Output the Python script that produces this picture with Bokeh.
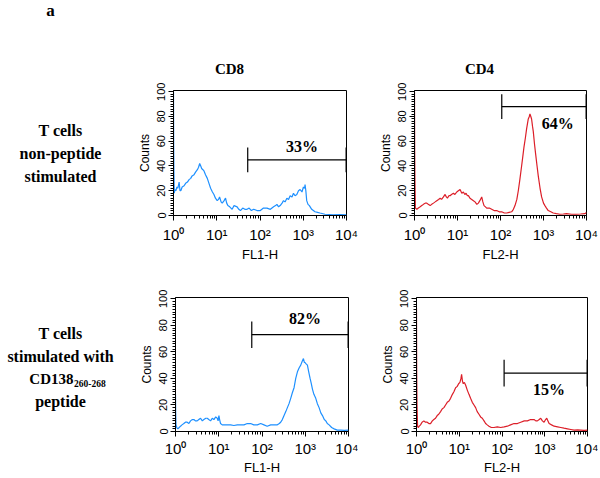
from bokeh.plotting import figure
from bokeh.layouts import column, row
from bokeh.models import Range1d, FixedTicker, SingleIntervalTicker
from bokeh.core.properties import value
from bokeh.embed import file_html
from bokeh.resources import INLINE
import numpy as np

# ---------------- data (log10 fluorescence, counts) ----------------
cd8_unstim = [(0.000,100),(0.004,57),(0.010,35),(0.018,18),(0.035,21),(0.054,20),(0.08,23),(0.100,22),
    (0.130,27),(0.150,20),(0.169,20),(0.200,23),(0.245,24),(0.280,26),(0.322,27),(0.360,29),(0.398,30),
    (0.430,32),(0.475,33),(0.510,35),(0.552,37),(0.580,39),(0.605,42),(0.630,40),(0.651,38),(0.680,37),
    (0.705,36),(0.740,33),(0.782,30),(0.820,26),(0.858,22),(0.900,19),(0.935,17),(0.970,14),(1.011,12),
    (1.040,13),(1.065,15),(1.100,11),(1.126,10),(1.170,12),(1.203,14),(1.230,10),(1.257,8),(1.300,7),
    (1.356,5),(1.400,8),(1.471,7),(1.510,5),(1.548,4),(1.600,6),(1.650,5),(1.701,5),(1.750,6),(1.800,4),
    (1.854,5),(1.930,4),(2.008,4),(2.080,6),(2.161,6),(2.240,5),(2.314,7),(2.360,8),(2.391,9),(2.430,7),
    (2.467,8),(2.510,10),(2.544,12),(2.580,11),(2.621,14),(2.660,13),(2.697,16),(2.740,15),(2.774,18),
    (2.810,16),(2.851,17),(2.890,20),(2.927,21),(2.970,19),(3.004,23),(3.030,22),(3.042,25),(3.060,20),
    (3.080,12),(3.110,9),(3.142,8),(3.195,5),(3.272,3),(3.330,2.5),(3.387,2),(3.502,1),(3.600,0.8),
    (3.693,0.5),(3.850,0.7),(4.000,0.5)]

cd4_unstim = [(0.000,100),(0.004,55),(0.010,30),(0.020,6),(0.054,5),(0.090,6),(0.132,7),(0.170,8),
    (0.209,9),(0.250,10),(0.286,10),(0.320,9),(0.364,8),(0.400,9),(0.441,10),(0.480,11),(0.518,12),
    (0.560,13),(0.596,14),(0.630,13),(0.673,15),(0.712,17),(0.740,15),(0.766,14),(0.800,16),(0.828,16),
    (0.860,17),(0.905,18),(0.940,17),(0.983,19),(1.020,20),(1.060,21),(1.100,18),(1.137,19),(1.170,17),
    (1.199,18),(1.230,16),(1.253,16),(1.290,14),(1.331,13),(1.370,12),(1.408,11),(1.450,9),(1.485,10),
    (1.520,12),(1.563,15),(1.590,11),(1.617,8),(1.650,7),(1.679,6),(1.740,6),(1.795,5),(1.850,4),
    (1.911,4),(1.970,3),(2.027,3),(2.090,2),(2.143,2),(2.200,2.5),(2.259,3),(2.300,5),(2.337,8),
    (2.380,13),(2.414,20),(2.450,29),(2.491,40),(2.520,48),(2.545,55),(2.580,63),(2.607,70),(2.646,78),
    (2.670,80),(2.685,82),(2.705,80),(2.723,78),(2.745,72),(2.762,68),(2.790,58),(2.816,50),(2.850,40),
    (2.878,32),(2.920,22),(2.956,15),(3.000,10),(3.033,8),(3.070,6),(3.110,4),(3.170,3),(3.226,2),
    (3.300,1.5),(3.381,1),(3.460,1.2),(3.536,1.5),(3.650,1),(3.768,1),(3.860,1.2),(3.961,1.5),(4.000,2.5)]

cd8_stim = [(0.000,28),(0.004,15),(0.012,5),(0.030,3),(0.054,2),(0.085,3),(0.116,4),(0.150,5),
    (0.193,6),(0.230,7),(0.270,7),(0.310,6),(0.347,8),(0.390,9),(0.425,9),(0.460,8),(0.502,8),(0.540,9),
    (0.579,10),(0.620,8),(0.656,9),(0.700,10),(0.734,10),(0.770,9),(0.811,8),(0.850,10),(0.888,9),
    (0.930,11),(0.965,10),(0.985,8),(1.004,12),(1.020,9),(1.042,6),(1.080,5),(1.120,5),(1.200,5),
    (1.274,5),(1.350,4.5),(1.429,5),(1.500,5),(1.583,5),(1.660,6),(1.737,6),(1.810,5),(1.892,5),
    (1.970,6),(2.046,5),(2.120,4),(2.201,5),(2.280,5),(2.355,5),(2.400,6),(2.432,7),(2.470,9),(2.510,12),
    (2.550,15),(2.587,18),(2.625,21),(2.664,25),(2.700,29),(2.741,33),(2.780,40),(2.819,45),(2.860,48),
    (2.896,50),(2.930,53),(2.958,55),(2.980,52),(2.996,52),(3.020,51),(3.050,50),(3.080,45),(3.112,40),
    (3.140,36),(3.166,32),(3.200,28),(3.243,25),(3.280,21),(3.320,18),(3.360,14),(3.398,12),(3.440,9),
    (3.475,8),(3.510,6),(3.552,5),(3.610,3),(3.668,2),(3.740,1),(3.822,1),(3.900,0.8),(4.000,1)]

cd4_stim = [(0.000,93),(0.004,47),(0.012,20),(0.025,4),(0.039,3),(0.065,4),(0.094,5),(0.130,7),
    (0.172,8),(0.210,7),(0.250,7),(0.290,6),(0.328,6),(0.370,8),(0.406,9),(0.445,10),(0.484,12),
    (0.520,13),(0.563,15),(0.600,17),(0.641,18),(0.680,20),(0.719,22),(0.760,23),(0.797,25),(0.840,28),
    (0.875,30),(0.915,33),(0.953,34),(0.985,36),(1.016,37),(1.040,40),(1.055,43),(1.075,38),(1.094,36),
    (1.120,37),(1.148,35),(1.190,31),(1.227,28),(1.265,25),(1.305,22),(1.345,20),(1.383,18),(1.420,15),
    (1.461,13),(1.500,11),(1.539,10),(1.580,8),(1.617,6),(1.655,5),(1.695,4),(1.750,3),(1.813,3),
    (1.890,3.5),(1.969,3),(2.050,3.5),(2.125,4),(2.200,5),(2.281,6),(2.360,6),(2.438,7),(2.520,8),
    (2.594,8),(2.670,9),(2.750,9),(2.790,8),(2.828,8),(2.870,9),(2.906,10),(2.945,8),(2.984,7),
    (3.020,9),(3.047,10),(3.075,8),(3.102,6),(3.160,5),(3.219,4),(3.300,3.5),(3.375,3),(3.450,2.5),
    (3.531,2),(3.610,1.5),(3.688,1),(3.770,1.2),(3.844,1),(3.920,0.8),(4.000,1)]

gate_lo = [52, 107, 58, 112]          # marker start (fluorescence)
gate_hi = [9800, 9800, 9800, 9800]    # marker end
gate_y = [45, 88, 73, 44]             # marker level (counts)
pct_text = ["33%", "64%", "82%", "15%"]
pct_x = [940, 2150, 990, 1260]
pct_y = [56, 74, 85, 31.6]

x_labels = ["FL1-H", "FL2-H", "FL1-H", "FL2-H"]
col_titles = ["CD8", "CD4"]
row1_lines = ["T cells", "non-peptide", "stimulated"]
row2_lines = ["T cells", "stimulated with", "CD138", "260-268", "peptide"]
tick_vals = [1, 10, 100, 1000, 10000]
tick_text = ["10\u2070", "10\u00b9", "10\u00b2", "10\u00b3", "10\u2074"]

BLUE = "#1e90ff"
RED = "#dc1e28"
SANS = "Liberation Sans"
SERIF = "Liberation Serif"

# layout (page pixels): header 0-78, row 1 78-264, row 2 264-477
ROW1_TOP, ROW1_H = 78, 186
ROW2_TOP, ROW2_H = 264, 213
MBT1, MBT2, MBB = 12, 33, 46


def panel(i, hist, color, width, height, mbl, mbr, mbt, mbb, x_standoff=5, lab_standoff=1):
    p = figure(width=width, height=height, x_axis_type="log", title=None,
               x_range=Range1d(1, 10000), y_range=Range1d(0, 101),
               output_backend="svg", toolbar_location=None,
               min_border_left=mbl, min_border_right=mbr,
               min_border_top=mbt, min_border_bottom=mbb)
    p.grid.visible = False
    p.outline_line_color = "black"
    p.outline_line_alpha = 1
    p.outline_line_width = 1
    p.background_fill_color = "white"
    p.border_fill_color = "white"

    e = np.array([h[0] for h in hist])
    c = np.array([h[1] for h in hist])
    p.line(10 ** e, c, line_color=color, line_width=1.2)

    # marker (gate)
    lo, hi, gy = gate_lo[i], gate_hi[i], gate_y[i]
    p.segment(x0=[lo], y0=[gy], x1=[hi], y1=[gy], line_color="black", line_width=1.2)
    p.segment(x0=[lo, hi], y0=[gy - 10, gy - 10], x1=[lo, hi], y1=[gy + 10, gy + 10],
              line_color="black", line_width=1.2)
    p.text(x=[pct_x[i]], y=[pct_y[i]], text=[pct_text[i]],
           text_font=value(SERIF), text_font_style="bold", text_font_size="16px",
           text_align="center", text_baseline="middle", text_color="black")

    minor = [m * 10 ** d for d in range(4) for m in range(2, 10)]
    p.xaxis.ticker = FixedTicker(ticks=tick_vals, minor_ticks=minor)
    p.xaxis.major_label_overrides = dict(zip(tick_vals, tick_text))
    p.yaxis.ticker = SingleIntervalTicker(interval=20, num_minor_ticks=10)
    p.yaxis.major_label_orientation = "vertical"
    p.xaxis.axis_label = x_labels[i]
    p.yaxis.axis_label = "Counts"
    for ax in (p.xaxis, p.yaxis):
        ax.axis_line_color = "black"
        ax.major_tick_line_color = "black"
        ax.minor_tick_line_color = "black"
        ax.major_tick_in = 0
        ax.major_tick_out = 5
        ax.minor_tick_in = 0
        ax.minor_tick_out = 3
        ax.major_label_text_font = SANS
        ax.major_label_text_color = "black"
        ax.axis_label_text_font = SANS
        ax.axis_label_text_font_style = "normal"
        ax.axis_label_text_color = "black"
    p.xaxis.major_label_text_font_size = "15px"
    p.yaxis.major_label_text_font_size = "11px"
    p.xaxis.axis_label_text_font_size = "13px"
    p.yaxis.axis_label_text_font_size = "12px"
    p.xaxis.major_label_standoff = x_standoff
    p.yaxis.major_label_standoff = 3
    p.xaxis.axis_label_standoff = lab_standoff
    p.yaxis.axis_label_standoff = 3
    return p


def text_fig(width, height, page_top, mbt=0, mbb=0):
    """Blank figure whose data coordinates are page pixels (frames in a row are aligned)."""
    f_top = page_top + mbt
    f_bot = page_top + height - mbb
    p = figure(width=width, height=height, title=None,
               x_range=Range1d(0, width), y_range=Range1d(f_bot, f_top),
               output_backend="svg", toolbar_location=None,
               min_border_left=0, min_border_right=0, min_border_top=mbt, min_border_bottom=mbb,
               x_axis_location=None, y_axis_location=None)
    p.grid.visible = False
    p.outline_line_color = None
    p.background_fill_color = "white"
    p.border_fill_color = "white"
    return p


def label(p, x, y, txt, size="16px", align="center"):
    p.text(x=[x], y=[y], text=[txt], text_font=value(SERIF), text_font_style="bold",
           text_font_size=size, text_align=align, text_baseline="middle", text_color="black")


# header
head = text_fig(598, 78, 0)
label(head, 50, 10, "a", "17px")
label(head, 229, 68, col_titles[0], "15px")
label(head, 479, 68, col_titles[1], "15px")

# row labels (page coordinates)
lab1 = text_fig(128, ROW1_H, ROW1_TOP, MBT1, MBB)
for txt, yy in zip(row1_lines, [131, 154.5, 178]):
    label(lab1, 60, yy, txt)

lab2 = text_fig(128, ROW2_H, ROW2_TOP, MBT2, MBB)
label(lab2, 60, 333, row2_lines[0])
label(lab2, 60, 356, row2_lines[1])
label(lab2, 73, 378.5, row2_lines[2], "15px", "right")
label(lab2, 73.5, 383, row2_lines[3], "9.5px", "left")
label(lab2, 60, 401, row2_lines[4])

tl = panel(0, cd8_unstim, BLUE, 230, ROW1_H, 45, 12, MBT1, MBB)
tr = panel(1, cd4_unstim, RED, 240, ROW1_H, 56, 12, MBT1, MBB)
bl = panel(2, cd8_stim, BLUE, 230, ROW2_H, 47, 10, MBT2, MBB, 3, 0)
br = panel(3, cd4_stim, RED, 240, ROW2_H, 58, 11, MBT2, MBB, 3, 0)

layout = column(head, row(lab1, tl, tr), row(lab2, bl, br))

with open("out.html", "w") as f:
    f.write(file_html(layout, INLINE))
